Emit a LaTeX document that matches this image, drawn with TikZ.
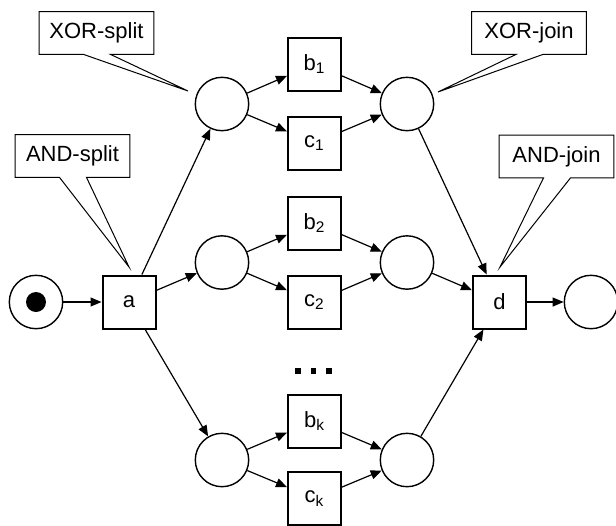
\documentclass[tikz,border=0pt]{standalone}
\usepackage{fontspec}
\setmainfont{Liberation Sans}
\usepackage{tikz}
\usetikzlibrary{shapes, arrows.meta, positioning}

\begin{document}
\begin{tikzpicture}[x=0.5pt, y=-0.5pt,
    font=\fontsize{11}{13}\selectfont,
    place/.style={draw, circle, line width=0.7pt, minimum size=26.7pt, inner sep=0pt},
    trans/.style={draw, rectangle, line width=1pt, minimum width=26.5pt, minimum height=26.5pt, inner sep=0pt},
    note/.style={rectangle, minimum width=57pt, minimum height=21pt, inner sep=0pt},
    arc/.style={-{Triangle[length=5.5pt, width=4.5pt]}, line width=0.6pt},
    callout/.style={line width=0.5pt}]
    \useasboundingbox (0,0) rectangle (616,525);

    % places
    \node[place] (pstart) at (36,302) {};
    \fill (pstart.center) circle (5pt);
    \node[place] (psplit1) at (222,104) {};
    \node[place] (psplit2) at (222,262.5) {};
    \node[place] (psplitk) at (222,460) {};
    \node[place] (pjoin1) at (407,104) {};
    \node[place] (pjoin2) at (407,262.5) {};
    \node[place] (pjoink) at (407,460) {};
    \node[place] (pend) at (591,302) {};

    % transitions
    \node[trans] (a) at (129,302) {a};
    \node[trans] (b1) at (314.5,64) {b\textsubscript{1}};
    \node[trans] (c1) at (314.5,143) {c\textsubscript{1}};
    \node[trans] (b2) at (314.5,223) {b\textsubscript{2}};
    \node[trans] (c2) at (314.5,302) {c\textsubscript{2}};
    \node[trans] (bk) at (314.5,421) {b\textsubscript{k}};
    \node[trans] (ck) at (314.5,498.5) {c\textsubscript{k}};
    \node[trans] (d) at (499.5,302) {d};

    \foreach \x in {298,313.5,329}
        \fill (\x-2.75,368) rectangle ++(5.5,5.5);

    % arcs
    \draw[arc] (pstart) -- (a);
    \draw[arc] (a) -- (psplit1);
    \draw[arc] (a) -- (psplit2);
    \draw[arc] (a) -- (psplitk);
    \foreach \i in {1,2,k} {
        \draw[arc] (psplit\i) -- (b\i);
        \draw[arc] (psplit\i) -- (c\i);
        \draw[arc] (b\i) -- (pjoin\i);
        \draw[arc] (c\i) -- (pjoin\i);
        \draw[arc] (pjoin\i) -- (d);
    }
    \draw[arc] (d) -- (pend);

    % callouts
    \node[note] (xorsplit) at (96.5,33) {XOR-split};
    \node[note] (andsplit) at (72.5,156) {AND-split};
    \node[note] (xorjoin) at (529,33) {XOR-join};
    \node[note] (andjoin) at (556.5,156.5) {AND-join};
    \coordinate (xorsplittip) at (188,91);
    \coordinate (andsplittip) at (129,267);
    \coordinate (xorjointip) at (438,92);
    \coordinate (andjointip) at (500,267);
    \foreach \n in {xorsplit, andsplit, xorjoin, andjoin}
        \draw[callout] ([xshift=-6.5pt]\n.south) -- (\n tip) -- ([xshift=7pt]\n.south)
            -- (\n.south east) -- (\n.north east) -- (\n.north west) -- (\n.south west) -- cycle;
\end{tikzpicture}
\end{document}
